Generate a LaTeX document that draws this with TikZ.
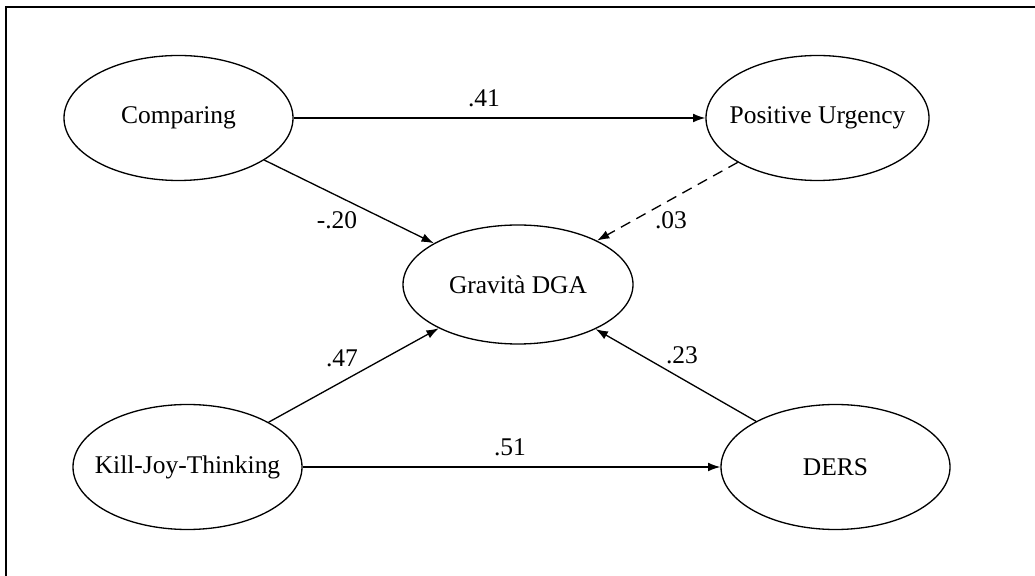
\documentclass[tikz,border=0pt]{standalone}
\usepackage{fontspec}
\setmainfont{Liberation Serif}
\usepackage{tikz}
\usetikzlibrary{shapes.geometric}
\usetikzlibrary{arrows.meta}

\begin{document}
\begin{tikzpicture}[
    var/.style={draw, ellipse, line width=0.75pt, inner ysep=0pt, inner xsep=-0.3cm,
      minimum width=4.58cm, minimum height=2.5cm,
      font=\fontsize{14.5}{17}\selectfont},
    coef/.style={font=\fontsize{14.5}{17}\selectfont, inner sep=0pt},
    path/.style={line width=0.75pt, -{Latex[length=7pt,width=5pt]}}
  ]
    \clip (0,0) rectangle (20.7,11.52);
    \draw[line width=1.1pt] (0.12,-1) rectangle (22,11.38);
    % variables
    \node[var] (comp) at (3.57,9.16) {Comparing};
    \node[var, minimum width=4.46cm] (urg) at (16.35,9.16) {Positive Urgency};
    \node[var, minimum width=4.6cm, minimum height=2.38cm] (dga) at (10.36,5.83) {Gravità DGA};
    \node[var] (kjt) at (3.75,2.18) {Kill-Joy-Thinking};
    \node[var] (ders) at (16.71,2.18) {DERS};
    % paths
    \draw[path] (comp) -- (urg);
    \draw[path] (comp) -- (dga);
    \draw[path, dashed, dash pattern=on 6pt off 4pt] (urg) -- (dga);
    \draw[path] (kjt) -- (dga);
    \draw[path] (ders) -- (dga);
    \draw[path] (kjt) -- (ders);
    % coefficients
    \node[coef] (c41) at (9.68,9.56) {.41};
    \node[coef] (c20) at (6.74,7.12) {-.20};
    \node[coef] (c03) at (13.42,7.12) {.03};
    \node[coef] (c47) at (6.84,4.36) {.47};
    \node[coef] (c23) at (13.64,4.42) {.23};
    \node[coef] (c51) at (10.2,2.58) {.51};
  \end{tikzpicture}
\end{document}
